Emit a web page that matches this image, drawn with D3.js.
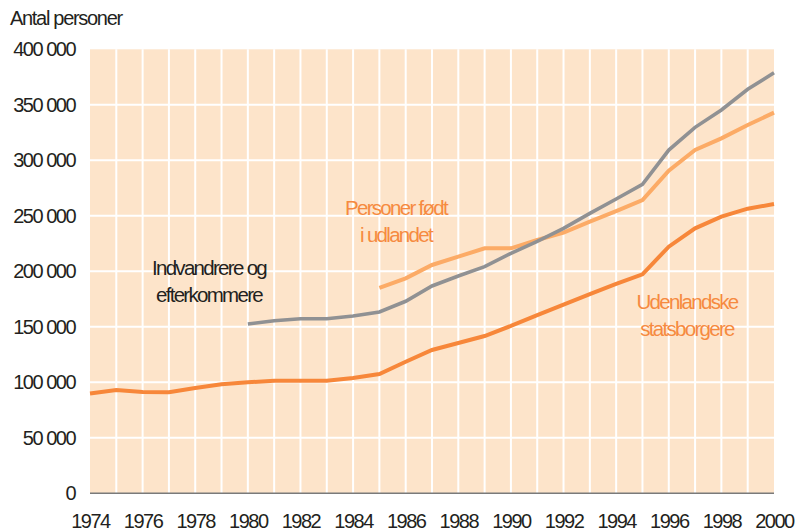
<!DOCTYPE html>
<html>
<head>
<meta charset="utf-8">
<script src="https://cdn.jsdelivr.net/npm/d3@7"></script>
<style>
  html, body { margin: 0; padding: 0; background: #ffffff; }
  svg { display: block; font-family: "Liberation Sans", Arial, Helvetica, sans-serif; }
</style>
</head>
<body>
<svg id="chart" width="798" height="531"></svg>
<script>
// Years shown on the x axis
const years = d3.range(1974, 2001);
const yearTicks = d3.range(1974, 2001, 2);
const valueTicks = [0, 50000, 100000, 150000, 200000, 250000, 300000, 350000, 400000];

// Udenlandske statsborgere, 1974–2000
const statsborgereYears = d3.range(1974, 2001);
const statsborgere = [90000, 93000, 91300, 91000, 94800, 98200, 100000, 101400, 101400, 101400,
  103800, 107400, 118500, 129100, 135400, 141700, 150800, 160600, 170000, 179500,
  188600, 197300, 222200, 238700, 249200, 256400, 260600];

// Indvandrere og efterkommere, 1980–2000
const indvandrereYears = d3.range(1980, 2001);
const indvandrere = [152500, 155500, 157300, 157300, 159700, 163300, 173000, 186800, 195800,
  204200, 216200, 227000, 238700, 252200, 265100, 278300, 309200, 329700, 345300, 364000, 378900];

// Personer født i udlandet, 1985–2000
const foedtYears = d3.range(1985, 2001);
const foedt = [185000, 193700, 205700, 213200, 220700, 220700, 228200, 234800, 244700,
  254300, 264200, 290600, 309300, 319800, 331800, 342900];

const svg = d3.select("#chart");
const x = d3.scaleLinear().domain([1974, 2000]).range([90, 774]);
const y = d3.scaleLinear().domain([0, 400000]).range([493.3, 49.3]);

const fmt = v => v === 0 ? "0" : d3.format(",")(v).replace(/,/g, " ");

// Plot background
svg.append("rect")
  .attr("x", x(1974)).attr("y", y(400000))
  .attr("width", x(2000) - x(1974)).attr("height", y(0) - y(400000))
  .attr("fill", "#fde4ca");

// White grid
svg.append("g").selectAll("line").data(years.filter(d => d > 1974 && d < 2000)).join("line")
  .attr("x1", d => x(d)).attr("x2", d => x(d))
  .attr("y1", y(400000)).attr("y2", y(0))
  .attr("stroke", "#ffffff").attr("stroke-width", 2);
svg.append("g").selectAll("line").data(valueTicks.filter(d => d > 0 && d < 400000)).join("line")
  .attr("x1", x(1974)).attr("x2", x(2000))
  .attr("y1", d => y(d)).attr("y2", d => y(d))
  .attr("stroke", "#ffffff").attr("stroke-width", 2);

// Baseline
svg.append("line")
  .attr("x1", x(1974)).attr("x2", x(2000))
  .attr("y1", y(0)).attr("y2", y(0))
  .attr("stroke", "#7a7a7a").attr("stroke-width", 1.5);

// Y axis labels
const yAxis = d3.axisLeft(y).tickValues(valueTicks).tickSize(0).tickPadding(0).tickFormat(fmt);
const gy = svg.append("g").attr("transform", "translate(75,0)").call(yAxis);
gy.select(".domain").remove();
gy.selectAll("text")
  .attr("font-size", 20).attr("letter-spacing", "-1.5px")
  .attr("fill", "#231f20").attr("font-family", "'Liberation Sans', Arial, sans-serif");

// X axis labels
const xAxis = d3.axisBottom(x).tickValues(yearTicks).tickSize(0).tickPadding(0).tickFormat(d3.format("d"));
const gx = svg.append("g").attr("transform", `translate(0,${y(0)})`).call(xAxis);
gx.select(".domain").remove();
gx.selectAll("text")
  .attr("dy", null).attr("y", 35)
  .attr("font-size", 20).attr("letter-spacing", "-1.5px")
  .attr("fill", "#231f20").attr("font-family", "'Liberation Sans', Arial, sans-serif");

// Y axis title
svg.append("text").attr("x", 10).attr("y", 25)
  .attr("font-size", 20).attr("letter-spacing", "-1.3px").attr("fill", "#231f20")
  .text("Antal personer");

// Series lines
const line = d3.line().x(d => x(d[0])).y(d => y(d[1]));
const series = [
  { years: statsborgereYears, values: statsborgere, color: "#f7873a", width: 4 },
  { years: foedtYears, values: foedt, color: "#fcab66", width: 4 },
  { years: indvandrereYears, values: indvandrere, color: "#909193", width: 3.6 }
];
svg.append("g").selectAll("path").data(series).join("path")
  .attr("d", s => line(d3.zip(s.years, s.values)))
  .attr("fill", "none").attr("stroke", s => s.color)
  .attr("stroke-width", s => s.width)
  .attr("stroke-linejoin", "miter").attr("stroke-linecap", "butt");

// Series labels
const labels = [
  { lines: ["Indvandrere og", "efterkommere"], cx: 209, y0: 275, color: "#231f20" },
  { lines: ["Personer født", "i udlandet"], cx: 396, y0: 215, color: "#f68a40" },
  { lines: ["Udenlandske", "statsborgere"], cx: 687, y0: 309, color: "#f68a40" }
];
labels.forEach(l => {
  const t = svg.append("text").attr("text-anchor", "middle")
    .attr("font-size", 20.5).attr("letter-spacing", "-1.7px").attr("fill", l.color);
  l.lines.forEach((s, i) => {
    t.append("tspan").attr("x", l.cx).attr("y", l.y0 + i * 27).text(s);
  });
});
</script>
</body>
</html>
